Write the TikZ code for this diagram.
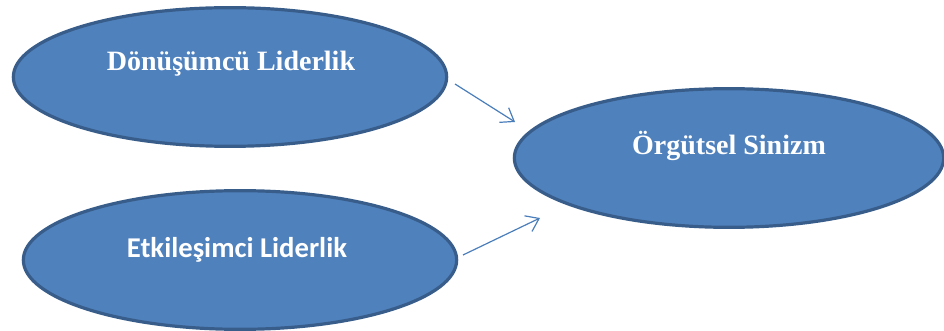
\documentclass[tikz,border=0pt]{standalone}
\usepackage{fontspec}
\setmainfont{Liberation Serif}
\newfontfamily\calibri{Carlito}
\usetikzlibrary{shapes.geometric,arrows.meta}

\definecolor{ovalfill}{RGB}{79,129,189}
\definecolor{ovaldraw}{RGB}{56,93,138}
\definecolor{arrowblue}{RGB}{74,126,187}

\tikzset{
  oval/.style={ellipse,draw=ovaldraw,line width=2.4pt,fill=ovalfill,
    minimum width=#1,minimum height=104pt,inner sep=0pt},
  ovaltext/.style={text=white,font=\fontsize{21}{24}\selectfont\bfseries},
  link/.style={draw=arrowblue,line width=0.9pt,
    -{Straight Barb[length=9pt,width=13pt,line width=0.9pt]}}
}

\begin{document}
\begin{tikzpicture}[x=0.75pt,y=-0.75pt]
\useasboundingbox (0,0) rectangle (944,331);
\node[oval=325pt] (donusumcu) at (230,77) {};
\node[oval=325pt] (etkilesimci) at (240,260) {};
\node[oval=322pt] (sinizm) at (729,158) {};
\node[ovaltext] (donusumcu-t) at (231,64) {Dönüşümcü Liderlik};
\node[ovaltext,font=\calibri\fontsize{21.5}{24}\selectfont\bfseries] (etkilesimci-t) at (237,250) {Etkileşimci Liderlik};
\node[ovaltext] (sinizm-t) at (729,146) {Örgütsel Sinizm};
% free arrow ends, clear of the ovals
\coordinate (a1) at (455,84);
\coordinate (b1) at (515,122);
\coordinate (a2) at (463,255);
\coordinate (b2) at (540,218);
\draw[link] (a1) -- (b1);
\draw[link] (a2) -- (b2);
\end{tikzpicture}
\end{document}
